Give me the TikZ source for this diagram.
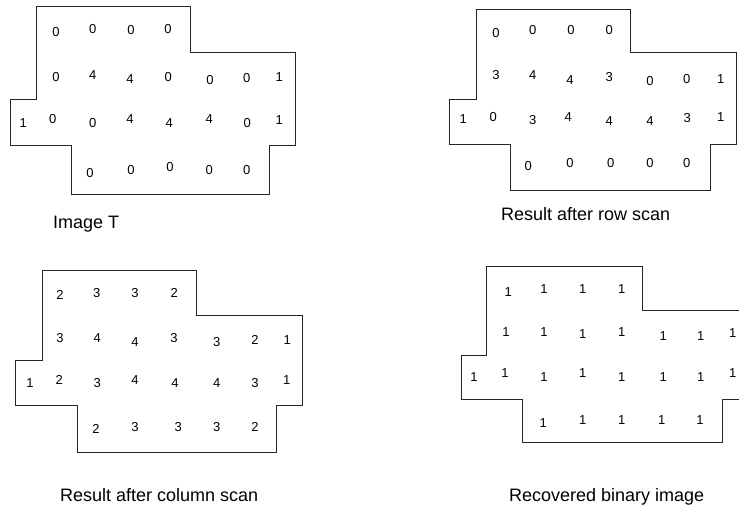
\documentclass[tikz,border=0pt]{standalone}
\usepackage{fontspec}
\setmainfont{Liberation Sans}
\begin{document}
\begin{tikzpicture}[x=1pt,y=-1pt,
  outline/.style={draw=black!85,line width=0.9pt},
  digit/.style={inner sep=0pt,font=\fontsize{13}{13}\selectfont},
  caption/.style={inner sep=0pt,anchor=base west,font=\fontsize{18}{18}\selectfont}]
\useasboundingbox (0,0) rectangle (739,509);
\clip (0,0) rectangle (739,509);

% ---- Image T ----
\draw[outline] (36.7,6) -- (190,6) -- (190,52.3) -- (295,52.3) -- (295,145.7)
  -- (269.3,145.7) -- (269.3,194.3) -- (71,194.3) -- (71,145.7) -- (10.7,145.7)
  -- (10.7,99.3) -- (36.7,99.3) -- cycle;
\foreach \x/\y/\t [count=\i] in {
  56/32.3/0, 92.7/29.3/0, 131/30/0, 168/29.3/0,
  56/76.7/0, 92.7/75/4, 130/79/4, 168.3/76.7/0, 210/80/0, 246.7/77.7/0, 279.3/77.3/1,
  23.3/122.7/1, 52.7/119.3/0, 92.7/123.3/0, 130/119.3/4, 169.3/123.3/4, 209.3/119.3/4, 247.3/123.3/0, 279.3/120/1,
  90/172.7/0, 131/170/0, 170/166.7/0, 209.3/170/0, 246.7/170/0}
  \node[digit] (ta\i) at (\x,\y) {\t};
\node[caption] (capA) at (53,228) {Image T};

% ---- Result after row scan ----
\draw[outline] (476,9) -- (630.7,9) -- (630.7,52.7) -- (736,52.7) -- (736,144)
  -- (710,144) -- (710,190.7) -- (510,190.7) -- (510,144) -- (449.3,144)
  -- (449.3,99) -- (476,99) -- cycle;
\foreach \x/\y/\t [count=\i] in {
  496/33.3/0, 532.7/30/0, 571/30/0, 609.3/30/0,
  496/75/3, 532.7/75/4, 570/80/4, 609.3/76.7/3, 650/80.7/0, 686.7/78.7/0, 720.7/78.7/1,
  463.3/119.3/1, 493.3/116.7/0, 532.7/120/3, 568.3/116.7/4, 609.3/120.7/4, 650/120.7/4, 687.3/118.3/3, 720.7/117.3/1,
  528.3/166/0, 570/163.3/0, 610.7/163.3/0, 650/163.3/0, 686.7/163.3/0}
  \node[digit] (tb\i) at (\x,\y) {\t};
\node[caption] (capB) at (501,220) {Result after row scan};

% ---- Result after column scan ----
\draw[outline] (42.3,270) -- (196,270) -- (196,315) -- (302.7,315) -- (302.7,405.7)
  -- (276,405.7) -- (276,452.3) -- (77.3,452.3) -- (77.3,405.7) -- (15.7,405.7)
  -- (15.7,360) -- (42.3,360) -- cycle;
\foreach \x/\y/\t [count=\i] in {
  60/295/2, 96.7/292.7/3, 135/292.7/3, 174.3/292.7/2,
  60/338.3/3, 97.3/338.3/4, 135/341.7/4, 174/338.3/3, 216.7/341.7/3, 255/340/2, 287.3/340/1,
  30/383.3/1, 59.3/380/2, 97.3/383.3/3, 135/380/4, 175/383.3/4, 216.7/383.3/4, 255/383.3/3, 286.7/380/1,
  96/429.3/2, 135/426.7/3, 178.3/426.7/3, 216.7/426.7/3, 255/426.7/2}
  \node[digit] (tc\i) at (\x,\y) {\t};
\node[caption] (capC) at (60,501) {Result after column scan};

% ---- Recovered binary image (its right side runs past the edge) ----
\draw[outline] (486.7,266) -- (642.3,266) -- (642.3,310) -- (745,310)
  -- (745,399.3) -- (722.7,399.3) -- (722.7,442.7) -- (522.7,442.7) -- (522.7,399.3)
  -- (461.7,399.3) -- (461.7,355) -- (486.7,355) -- cycle;
\foreach \x/\y/\t [count=\i] in {
  508.3/292.3/1, 544/289.3/1, 582.7/289.3/1, 621.7/289.3/1,
  506/331.7/1, 544/331.7/1, 582.7/334/1, 621.7/331.7/1, 663.3/336/1, 700.7/336/1, 732.7/332.7/1,
  474/376.7/1, 505/373.3/1, 544/376.7/1, 582.7/373.3/1, 621.7/376.7/1, 663.3/376.7/1, 700.7/376.7/1, 732.7/373.3/1,
  543.3/422.7/1, 582.7/420/1, 621.7/420/1, 661.7/420/1, 700/420/1}
  \node[digit] (td\i) at (\x,\y) {\t};
\node[caption] (capD) at (509,501) {Recovered binary image};
\end{tikzpicture}
\end{document}
